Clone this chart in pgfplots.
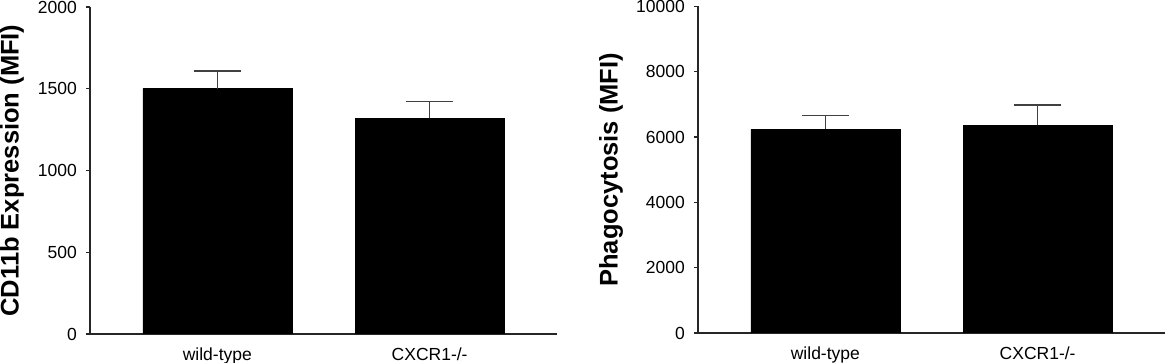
\documentclass[border=0pt]{standalone}
\usepackage{pgfplots}
\pgfplotsset{compat=1.18}
\usepackage{fontspec}
\setmainfont{Liberation Sans}
\setsansfont{Liberation Sans}
\begin{document}
\begin{tikzpicture}
\pgfplotsset{
  panel/.style={
    scale only axis,
    anchor=south west,
    width=467pt,
    xmin=0.4, xmax=2.6, ymin=0,
    axis x line*=bottom, axis y line*=left,
    axis line style={line width=1.2pt, black!85},
    xtick={1,2}, xticklabels={wild-type, CXCR1-/-},
    x tick style={draw=none},
    y tick style={line width=1.2pt, black!85},
    tick align=outside, major tick length=4pt,
    scaled y ticks=false,
    /pgf/number format/assume math mode=true,
    /pgf/number format/set thousands separator={},
    tick label style={font=\fontsize{17.5pt}{18pt}\selectfont},
    yticklabel style={inner sep=0pt, anchor=east, xshift=-9pt},
    xticklabel style={inner sep=0pt, anchor=base, yshift=-22.5pt},
    label style={font=\fontsize{25.5pt}{27pt}\selectfont\bfseries},
  },
  errbar/.style={
    ybar, bar width=149pt, fill=black, draw=black, line width=0.6pt,
    error bars/.cd, y dir=plus, y explicit,
    error bar style={line width=1.2pt, black!75},
    error mark options={rotate=90, mark size=23.5pt, line width=1.2pt, black!75},
  },
}
\begin{axis}[panel,
  at={(90pt,29pt)}, height=327pt,
  ymax=2000, ytick={0,500,1000,1500,2000},
  ylabel={CD11b Expression (MFI)},
  ylabel style={at={(axis description cs:-0.141,0.5)}, anchor=south, inner sep=0pt},
]
\addplot[errbar] coordinates {(1,1500) +- (0,108) (2,1320) +- (0,102)};
\end{axis}
\begin{axis}[panel,
  at={(698pt,30pt)}, height=326.5pt,
  ymax=10000, ytick={0,2000,4000,6000,8000,10000},
  ylabel={Phagocytosis (MFI)},
  ylabel style={at={(axis description cs:-0.16,0.5)}, anchor=south, inner sep=0pt},
]
\addplot[errbar] coordinates {(1,6240) +- (0,420) (2,6360) +- (0,620)};
\end{axis}
\pgfresetboundingbox
\useasboundingbox (0,0) rectangle (1167pt,363pt);
\end{tikzpicture}
\end{document}
